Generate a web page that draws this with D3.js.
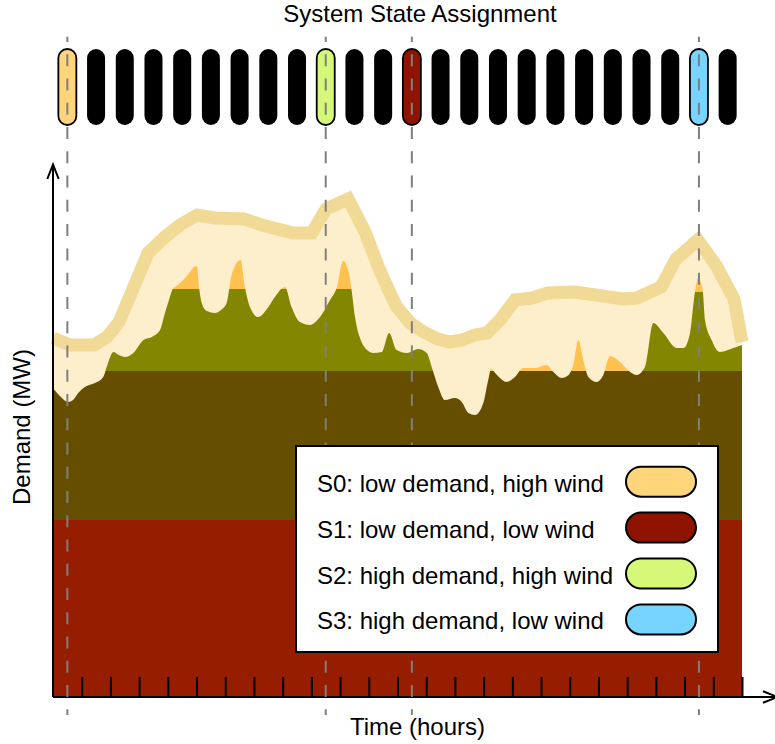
<!DOCTYPE html>
<html>
<head>
<meta charset="utf-8">
<script src="https://cdn.jsdelivr.net/npm/d3@7"></script>
<style>
  body { margin: 0; background: #fff; }
  text { font-family: "Liberation Sans", Arial, Helvetica, sans-serif; fill: #000; }
</style>
</head>
<body>
<div id="d3-container"></div>
<script>
// one state pill per hour
const hours = d3.range(24);
const stateNames = ["S0: low demand, high wind", "S1: low demand, low wind",
                    "S2: high demand, high wind", "S3: high demand, low wind"];
const stateHours = [0, 12, 9, 22];   // hour that got each state

// total supply (base + mid + wind), MW
const supplyHours = [0.00, 0.24, 0.53, 0.70, 0.88, 1.11, 1.46, 1.75, 1.87, 1.99, 2.10, 2.30, 2.51, 2.80,
    3.15, 3.44, 3.73, 3.90, 4.04, 4.19, 4.25, 4.60, 5.01, 5.09, 5.18, 5.36, 5.64, 5.85, 6.05, 6.22,
    6.53, 6.69, 6.86, 7.15, 7.50, 7.73, 8.08, 8.31, 8.60, 8.95, 9.30, 9.65, 9.88, 10.11, 10.32, 10.40,
    10.52, 10.75, 10.94, 11.16, 11.45, 11.71, 11.97, 12.32, 12.72, 13.02, 13.19, 13.42, 13.65, 14.00,
    14.24, 14.47, 14.70, 14.99, 15.16, 15.26, 15.40, 15.80, 16.09, 16.38, 16.79, 17.20, 17.43, 17.72,
    17.96, 18.12, 18.30, 18.47, 18.65, 18.94, 19.17, 19.40, 19.75, 20.10, 20.33, 20.62, 20.91, 21.26,
    21.73, 21.96, 22.19, 22.36, 22.48, 22.63, 22.71, 22.94, 23.23, 23.70, 24.00];
const supplyMW = [309, 301, 295, 297, 304, 310, 314, 320, 330, 340, 345, 342, 340, 344,
    357, 360, 367, 384, 397, 409, 410, 419, 431, 409, 394, 386, 384, 387, 394, 422,
    437, 409, 390, 380, 390, 400, 410, 390, 375, 372, 380, 397, 409, 436, 422, 407,
    380, 355, 347, 344, 345, 364, 347, 344, 348, 344, 330, 310, 297, 299,
    295, 284, 282, 294, 317, 328, 324, 315, 320, 329, 329, 332, 325, 319,
    322, 332, 357, 337, 320, 315, 322, 341, 335, 325, 322, 330, 374, 364,
    349, 349, 364, 405, 419, 407, 377, 357, 345, 349, 352];

// demand, MW
const demandHours = [0.00, 0.59, 1.43, 1.88, 2.30, 3.31, 3.90, 4.42, 5.02, 5.64, 6.65, 7.28, 8.36, 9.02,
    9.51, 10.28, 10.87, 11.39, 11.95, 12.44, 12.85, 13.41, 13.83, 14.25, 14.70, 15.12, 15.57, 16.09,
    16.69, 17.24, 18.18, 19.85, 20.34, 21.18, 21.70, 22.46, 23.09, 23.72, 24.00];
const demandMW = [359, 352, 352, 360, 375, 444, 460, 472, 482, 479, 478, 472, 464, 464,
    488, 498, 465, 426, 391, 374, 366, 358, 355, 357, 362, 364, 377, 397,
    399, 404, 405, 398, 399, 410, 438, 457, 432, 398, 355];

// generation blocks, MW
const baseMW = 177;
const midMW = 326;
const windCapHours = [0, 13.3, 20.5, 24];
const windCapMW = [408, 326, 405];

const colors = {
    base: "#971d00", mid: "#664e00", wind: "#838600", spill: "#ffc14f",
    gap: "#fdefcb", demand: "#f1da96",
    states: ["#ffd57c", "#8f1400", "#d5f878", "#76d4ff"]
};

const width = 775;
const height = 744;

const svg = d3.select("#d3-container")
    .append("svg")
    .attr("width", width)
    .attr("height", height);

const x = d3.scaleLinear().domain([0, 24]).range([53, 742]);
const y = d3.scaleLinear().domain([0, 530]).range([697, 167]);

const supply = supplyHours.map((h, i) => [h, supplyMW[i]]);
const demand = demandHours.map((h, i) => [h, demandMW[i]]);

// clip everything generated to the supply curve
svg.append("clipPath")
    .attr("id", "supply-clip")
    .append("path")
    .attr("d", d3.area()
        .x(d => x(d[0]))
        .y0(y(0))
        .y1(d => y(d[1]))
        .curve(d3.curveMonotoneX)(supply));

// unmet demand area (everything below demand line)
svg.append("path")
    .attr("fill", colors.gap)
    .attr("d", d3.area()
        .x(d => x(d[0]))
        .y0(y(0))
        .y1(d => y(d[1]))(demand));

const gen = svg.append("g").attr("clip-path", "url(#supply-clip)");

gen.append("rect")
    .attr("x", x(0)).attr("width", x(24) - x(0))
    .attr("y", y(baseMW)).attr("height", y(0) - y(baseMW))
    .attr("fill", colors.base);

gen.append("rect")
    .attr("x", x(0)).attr("width", x(24) - x(0))
    .attr("y", y(midMW)).attr("height", y(baseMW) - y(midMW))
    .attr("fill", colors.mid);

const capSegs = windCapMW.map((c, i) => ({h0: windCapHours[i], h1: windCapHours[i + 1], cap: c}));

gen.selectAll(".wind")
    .data(capSegs)
    .join("rect")
    .attr("class", "wind")
    .attr("x", d => x(d.h0)).attr("width", d => x(d.h1) - x(d.h0))
    .attr("y", d => y(d.cap)).attr("height", d => y(midMW) - y(d.cap))
    .attr("fill", colors.wind);

gen.selectAll(".spill")
    .data(capSegs)
    .join("rect")
    .attr("class", "spill")
    .attr("x", d => x(d.h0)).attr("width", d => x(d.h1) - x(d.h0))
    .attr("y", y(530)).attr("height", d => y(d.cap) - y(530))
    .attr("fill", colors.spill);

// demand line
svg.append("path")
    .attr("fill", "none")
    .attr("stroke", colors.demand)
    .attr("stroke-width", 13)
    .attr("stroke-linejoin", "miter")
    .attr("d", d3.line().x(d => x(d[0])).y(d => y(d[1]))(demand));

// hour ticks
svg.append("g")
    .attr("transform", `translate(0,${y(0)})`)
    .call(d3.axisBottom(x).tickValues(d3.range(1, 25)).tickSize(-20).tickSizeOuter(0).tickFormat(""))
    .call(g => g.select(".domain").remove())
    .call(g => g.selectAll("line").attr("stroke", "#000").attr("stroke-width", 2));

// axes with open arrowheads
svg.append("path")
    .attr("fill", "none").attr("stroke", "#000").attr("stroke-width", 2)
    .attr("d", `M${x(0)},${y(0)}V165M47.3,179L${x(0)},164.5L58.7,179`);
svg.append("path")
    .attr("fill", "none").attr("stroke", "#000").attr("stroke-width", 2)
    .attr("d", `M${x(0)},${y(0)}H777M763,691.3L777.5,${y(0)}L763,702.7`);

// state assignment pills
const stateOf = h => stateHours.indexOf(h);

svg.selectAll(".pill")
    .data(hours)
    .join("rect")
    .attr("class", "pill")
    .attr("x", h => x(h + 0.5) - 9)
    .attr("y", 49)
    .attr("width", 18)
    .attr("height", 76)
    .attr("rx", 9)
    .attr("fill", h => stateOf(h) < 0 ? "#000" : colors.states[stateOf(h)])
    .attr("stroke", "#000")
    .attr("stroke-width", h => stateOf(h) < 0 ? 0 : 1.8);

// dashed markers through assigned hours
svg.selectAll(".marker")
    .data(stateHours)
    .join("line")
    .attr("class", "marker")
    .attr("x1", h => x(h + 0.5)).attr("x2", h => x(h + 0.5))
    .attr("y1", 36.7).attr("y2", 715)
    .attr("stroke", "#7f7f7f")
    .attr("stroke-width", 2)
    .attr("stroke-dasharray", "12,12.26")
    .attr("stroke-dashoffset", 6.66);

// legend
const legend = svg.append("g");
legend.append("rect")
    .attr("x", 296).attr("y", 446)
    .attr("width", 422).attr("height", 206)
    .attr("fill", "#fff").attr("stroke", "#000").attr("stroke-width", 2);

const rows = legend.selectAll(".row")
    .data(stateNames)
    .join("g")
    .attr("class", "row")
    .attr("transform", (d, i) => `translate(0,${491.7 + i * 45.9})`);

rows.append("text")
    .attr("x", 317)
    .attr("font-size", 24)
    .text(d => d);

rows.append("rect")
    .attr("x", 626).attr("y", -25)
    .attr("width", 70).attr("height", 30)
    .attr("rx", 15)
    .attr("fill", (d, i) => colors.states[i])
    .attr("stroke", "#000").attr("stroke-width", 2);

// labels
svg.append("text")
    .attr("x", 420).attr("y", 21.5)
    .attr("text-anchor", "middle")
    .attr("font-size", 24)
    .text("System State Assignment");

svg.append("text")
    .attr("x", 417.5).attr("y", 735)
    .attr("text-anchor", "middle")
    .attr("font-size", 24)
    .text("Time (hours)");

svg.append("text")
    .attr("transform", "translate(30,427) rotate(-90)")
    .attr("text-anchor", "middle")
    .attr("font-size", 24)
    .text("Demand (MW)");
</script>
</body>
</html>
